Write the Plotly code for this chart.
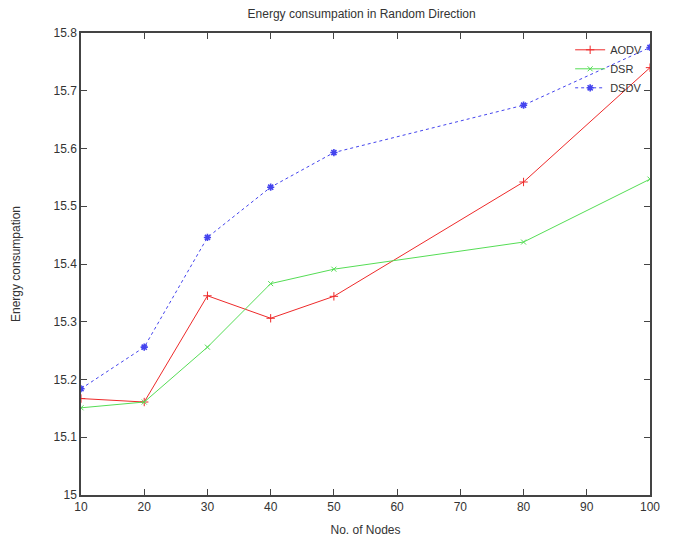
import plotly.graph_objects as go

nodes = [10, 20, 30, 40, 50, 80, 100]
aodv = [15.167, 15.161, 15.345, 15.306, 15.344, 15.542, 15.740]
dsr = [15.151, 15.161, 15.256, 15.366, 15.391, 15.438, 15.547]
dsdv = [15.184, 15.256, 15.446, 15.533, 15.593, 15.675, 15.775]

x_ticks = [10, 20, 30, 40, 50, 60, 70, 80, 90, 100]
y_ticks = [15, 15.1, 15.2, 15.3, 15.4, 15.5, 15.6, 15.7, 15.8]

FONT = "Liberation Sans"
TXT = "#333333"

fig = go.Figure()
fig.add_trace(go.Scatter(
    x=nodes, y=aodv, name="AODV", mode="lines+markers",
    line=dict(color="#ee2a2a", width=1),
    marker=dict(symbol="cross-thin-open", size=6, line=dict(color="#ee2a2a", width=1)),
))
fig.add_trace(go.Scatter(
    x=nodes, y=dsr, name="DSR", mode="lines+markers",
    line=dict(color="#55dd55", width=1),
    marker=dict(symbol="x-thin-open", size=5, line=dict(color="#55dd55", width=1)),
))
fig.add_trace(go.Scatter(
    x=nodes, y=dsdv, name="DSDV", mode="lines+markers",
    line=dict(color="#4444ee", width=1, dash="dot"),
    marker=dict(symbol="asterisk-open", size=6, line=dict(color="#2626cc", width=1.6)),
))

axis_common = dict(
    showline=True, linecolor="#444444", linewidth=1.5, mirror="ticks",
    ticks="inside", ticklen=6, tickwidth=1, tickcolor="#444444",
    showgrid=False, zeroline=False, automargin=False,
    tickfont=dict(family=FONT, size=12, color=TXT),
)

fig.update_layout(
    width=676, height=545,
    margin=dict(l=81, r=26, t=33, b=50),
    paper_bgcolor="white", plot_bgcolor="white",
    title=dict(text="Energy consumpation in Random Direction", x=0.535, xanchor="center",
               y=0.975, yanchor="middle",
               font=dict(family=FONT, size=12, color=TXT)),
    xaxis=dict(range=[10, 100], tickvals=x_ticks,
               title=dict(text="No. of Nodes", font=dict(family=FONT, size=12, color=TXT), standoff=12),
               **axis_common),
    yaxis=dict(range=[15, 15.8], tickvals=y_ticks,
               title=dict(text="Energy consumpation", font=dict(family=FONT, size=12, color=TXT), standoff=30),
               **axis_common),
    legend=dict(x=0.995, y=0.995, xanchor="right", yanchor="top",
                bgcolor="rgba(0,0,0,0)", font=dict(family=FONT, size=11, color=TXT),
                tracegroupgap=0, itemwidth=30),
    showlegend=True,
)

fig.write_html("out.html")
